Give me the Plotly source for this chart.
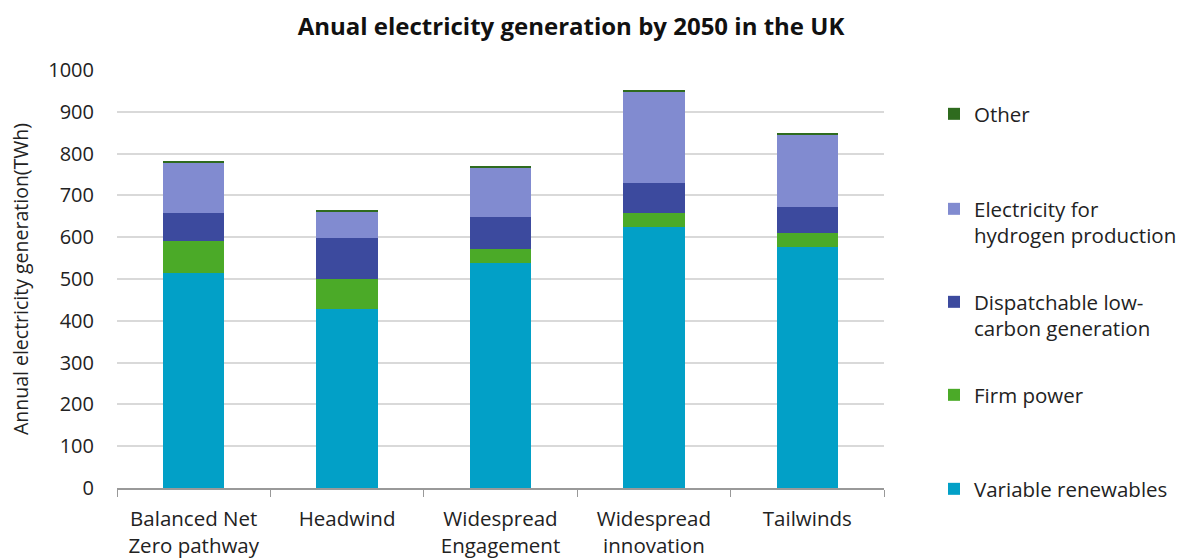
import plotly.graph_objects as go

scenarios = ["Balanced Net<br>Zero pathway", "Headwind", "Widespread<br>Engagement",
             "Widespread<br>innovation", "Tailwinds"]

variable_renewables = [515, 428, 539, 624, 577]
firm_power = [77, 72, 33, 34, 33]
dispatchable_low_carbon = [67, 99, 77, 71, 63]
hydrogen_electricity = [119, 63, 117, 219, 173]
other = [2, 1, 2, 2, 2]

y_ticks = list(range(0, 1001, 100))

FONT = "Open Sans"
W, H = 1182, 558

series = [
    ("Variable renewables", variable_renewables, "#02A0C7", "legend5"),
    ("Firm power", firm_power, "#4BAA28", "legend4"),
    ("Dispatchable low-<br>carbon generation", dispatchable_low_carbon, "#3C4A9E", "legend3"),
    ("Electricity for<br>hydrogen production", hydrogen_electricity, "#818BD0", "legend2"),
    ("Other", other, "#2E6B1E", "legend"),
]

fig = go.Figure()
for name, vals, color, leg in series:
    fig.add_trace(go.Bar(
        x=scenarios, y=vals, name=name, legend=leg, showlegend=True,
        marker=dict(color=color, line=dict(width=0)),
    ))

# one legend box per series, stacked down the right-hand side
legend_top_px = {"legend": 114, "legend2": 209, "legend3": 302, "legend4": 395, "legend5": 489}
legend_layout = {}
for key, ypx in legend_top_px.items():
    legend_layout[key] = dict(
        x=934 / W, xref="container", xanchor="left",
        y=1 - (ypx - 20) / H, yref="container", yanchor="top",
        font=dict(family=FONT, size=20.5, color="#222"),
        valign="top", bgcolor="rgba(0,0,0,0)", itemclick=False,
        visible=True,
    )

fig.update_layout(
    width=W, height=H,
    showlegend=True,
    barmode="stack", bargap=0.6,
    plot_bgcolor="white", paper_bgcolor="white",
    margin=dict(l=117, r=298, t=70, b=70),
    font=dict(family=FONT, size=20.5, color="#222"),
    title=dict(
        text="<b>Anual electricity generation by 2050 in the UK</b>",
        x=571 / W, xref="container", xanchor="center",
        y=1 - 27 / H, yref="container", yanchor="middle",
        font=dict(family=FONT, size=24, color="#111"),
    ),
    xaxis=dict(
        tickson="boundaries", ticks="outside", ticklen=7, tickcolor="#999",
        showline=True, linecolor="#999", linewidth=1.5,
        showgrid=False, tickfont=dict(size=20.5), ticklabelstandoff=12,
        automargin=False,
    ),
    yaxis=dict(
        range=[0, 1000], tickvals=y_ticks, ticktext=[str(v) for v in y_ticks],
        showgrid=True, gridcolor="#D9D9D9", gridwidth=1.5,
        zeroline=False, ticks="", ticklabelstandoff=22,
        tickfont=dict(size=20), automargin=False,
        title=dict(text="Annual electricity generation(TWh)", font=dict(size=19.5), standoff=14),
    ),
    **legend_layout,
)

fig.write_html("out.html")
